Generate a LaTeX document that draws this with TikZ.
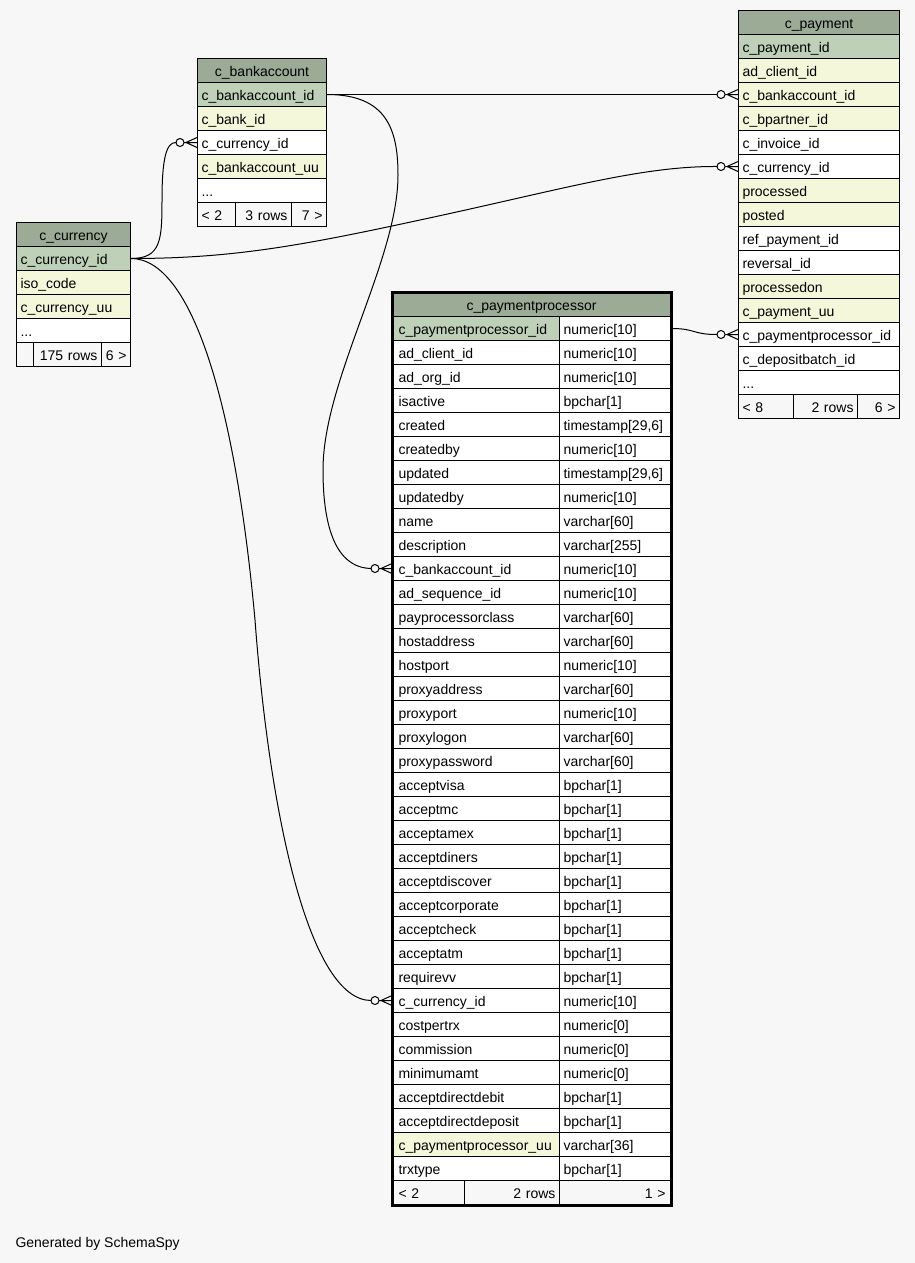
\documentclass[tikz,border=0pt]{standalone}
\usepackage{fontspec}
\setmainfont{Liberation Sans}
\definecolor{bgcol}{HTML}{F7F7F7}
\definecolor{headcol}{HTML}{9BAB96}
\definecolor{pkcol}{HTML}{BED1B8}
\definecolor{idxcol}{HTML}{F4F7DA}
\definecolor{plaincol}{HTML}{FFFFFF}

\begin{document}
\begin{tikzpicture}[x=1pt,y=-1pt,font=\fontsize{14}{16}\selectfont]
% Styles
\tikzstyle{cell}=[draw,line width=1pt,anchor=north west,minimum height=24pt,inner xsep=4pt,inner ysep=0pt,text height=12pt,text depth=0pt,align=left]
\tikzstyle{head}=[cell,fill=headcol,align=center]
\tikzstyle{foot}=[cell,fill=bgcol]
\tikzstyle{link}=[line width=1pt]
% The background
\fill[bgcol] (0,0) rectangle (915,1263);
\useasboundingbox (0,0) rectangle (915,1263);
% c_currency
\begin{scope}[cell/.append style={minimum width=114pt,text width=106pt}]
\node[head] (cur-h) at (16,222) {c\_currency};
\foreach \txt/\col [count=\i] in {c\_currency\_id/pkcol,iso\_code/idxcol,c\_currency\_uu/idxcol}
  \node[cell,fill=\col] (cur-\i) at (16,{222+24*\i}) {\txt};
\node[cell,fill=plaincol] (cur-4) at (16,318) {...};
\end{scope}
\node[foot,minimum width=17pt,text width=9pt] (cur-f1) at (16,342) {};
\node[foot,minimum width=68pt,text width=60pt,align=right] (cur-f2) at (33,342) {175 rows};
\node[foot,minimum width=29pt,text width=21pt,align=right] (cur-f3) at (101,342) {6 >};
% c_bankaccount
\begin{scope}[cell/.append style={minimum width=129pt,text width=121pt}]
\node[head] (ba-h) at (197,58) {c\_bankaccount};
\foreach \txt/\col [count=\i] in {c\_bankaccount\_id/pkcol,c\_bank\_id/idxcol,c\_currency\_id/plaincol,c\_bankaccount\_uu/idxcol}
  \node[cell,fill=\col] (ba-\i) at (197,{58+24*\i}) {\txt};
\node[cell,fill=plaincol] (ba-5) at (197,178) {...};
\end{scope}
\node[foot,minimum width=38pt,text width=30pt] (ba-f1) at (197,202) {< 2};
\node[foot,minimum width=56pt,text width=48pt,align=right] (ba-f2) at (235,202) {3 rows};
\node[foot,minimum width=35pt,text width=27pt,align=right] (ba-f3) at (291,202) {7 >};
% c_payment
\begin{scope}[cell/.append style={minimum width=161pt,text width=153pt}]
\node[head] (pay-h) at (738,10) {c\_payment};
\foreach \txt/\col [count=\i] in {c\_payment\_id/pkcol,ad\_client\_id/idxcol,c\_bankaccount\_id/idxcol,
  c\_bpartner\_id/idxcol,c\_invoice\_id/plaincol,c\_currency\_id/plaincol,processed/idxcol,posted/idxcol,
  ref\_payment\_id/plaincol,reversal\_id/plaincol,processedon/idxcol,c\_payment\_uu/idxcol,
  c\_paymentprocessor\_id/plaincol,c\_depositbatch\_id/plaincol}
  \node[cell,fill=\col] (pay-\i) at (738,{10+24*\i}) {\txt};
\node[cell,fill=plaincol] (pay-15) at (738,370) {...};
\end{scope}
\node[foot,minimum width=55pt,text width=47pt] (pay-f1) at (738,394) {< 8};
\node[foot,minimum width=64pt,text width=56pt,align=right] (pay-f2) at (793,394) {2 rows};
\node[foot,minimum width=42pt,text width=34pt,align=right] (pay-f3) at (857,394) {6 >};
% c_paymentprocessor
\node[head,minimum width=278pt,text width=270pt] (pp-h) at (392,292) {c\_paymentprocessor};
\foreach \txt/\typ/\col [count=\i] in {c\_paymentprocessor\_id/numeric[10]/pkcol,
  ad\_client\_id/numeric[10]/plaincol,ad\_org\_id/numeric[10]/plaincol,isactive/bpchar[1]/plaincol,
  created/{timestamp[29,6]}/plaincol,createdby/numeric[10]/plaincol,updated/{timestamp[29,6]}/plaincol,
  updatedby/numeric[10]/plaincol,name/varchar[60]/plaincol,description/varchar[255]/plaincol,
  c\_bankaccount\_id/numeric[10]/plaincol,ad\_sequence\_id/numeric[10]/plaincol,
  payprocessorclass/varchar[60]/plaincol,hostaddress/varchar[60]/plaincol,hostport/numeric[10]/plaincol,
  proxyaddress/varchar[60]/plaincol,proxyport/numeric[10]/plaincol,proxylogon/varchar[60]/plaincol,
  proxypassword/varchar[60]/plaincol,acceptvisa/bpchar[1]/plaincol,acceptmc/bpchar[1]/plaincol,
  acceptamex/bpchar[1]/plaincol,acceptdiners/bpchar[1]/plaincol,acceptdiscover/bpchar[1]/plaincol,
  acceptcorporate/bpchar[1]/plaincol,acceptcheck/bpchar[1]/plaincol,acceptatm/bpchar[1]/plaincol,
  requirevv/bpchar[1]/plaincol,c\_currency\_id/numeric[10]/plaincol,costpertrx/numeric[0]/plaincol,
  commission/numeric[0]/plaincol,minimumamt/numeric[0]/plaincol,acceptdirectdebit/bpchar[1]/plaincol,
  acceptdirectdeposit/bpchar[1]/plaincol,c\_paymentprocessor\_uu/varchar[36]/idxcol,trxtype/bpchar[1]/plaincol} {
  \node[cell,fill=\col,minimum width=167pt,text width=155pt,inner xsep=6pt] (ppl-\i) at (392,{292+24*\i}) {\txt};
  \node[cell,fill=plaincol,minimum width=111pt,text width=103pt] (ppr-\i) at (559,{292+24*\i}) {\typ};
}
\node[foot,minimum width=72pt,text width=60pt,inner xsep=6pt] (pp-f1) at (392,1180) {< 2};
\node[foot,minimum width=95pt,text width=87pt,align=right] (pp-f2) at (464,1180) {2 rows};
\node[foot,minimum width=111pt,text width=101pt,inner xsep=5pt,align=right] (pp-f3) at (559,1180) {1 >};
\draw[line width=3pt] (pp-h.north west) rectangle (pp-f3.south east);
% the links
\draw[link] (ba-1.east) -- ([xshift=-21pt]pay-3.west);
\draw[link] (ba-1.east) .. controls +(60,0) and (398,130) .. (398,175)
  .. controls (398,260) and (323,380) .. (323,470)
  .. controls (323,545) and (345,568) .. ([xshift=-21pt]ppl-11.west);
\draw[link] (cur-1.east) .. controls +(30,0) and (162,240) .. (162,200)
  .. controls (162,160) and (166,142) .. ([xshift=-21pt]ba-3.west);
\draw[link] (cur-1.east) .. controls +(100,0) and (300,246) .. (420,220)
  .. controls (560,190) and (640,166) .. ([xshift=-21pt]pay-6.west);
\draw[link] (cur-1.east) .. controls +(60,0) and (235,400) .. (255,620)
  .. controls (270,820) and (310,1000) .. ([xshift=-21pt]ppl-29.west);
\draw[link] (ppr-1.east) .. controls +(25,0) and +(-25,0) .. ([xshift=-21pt]pay-13.west);
% the many ends
\foreach \t in {pay-3,pay-6,pay-13,ba-3,ppl-11,ppl-29} {
  \draw[link,fill=bgcol] ([xshift=-17pt]\t.west) circle (4pt);
  \draw[link] ([xshift=-11pt]\t.west) -- ([yshift=5pt]\t.west)
    ([xshift=-11pt]\t.west) -- ([yshift=-5pt]\t.west)
    ([xshift=-13pt]\t.west) -- (\t.west);
}
\node[anchor=west] (gen) at (12,1244) {Generated by SchemaSpy};
\end{tikzpicture}
\end{document}
